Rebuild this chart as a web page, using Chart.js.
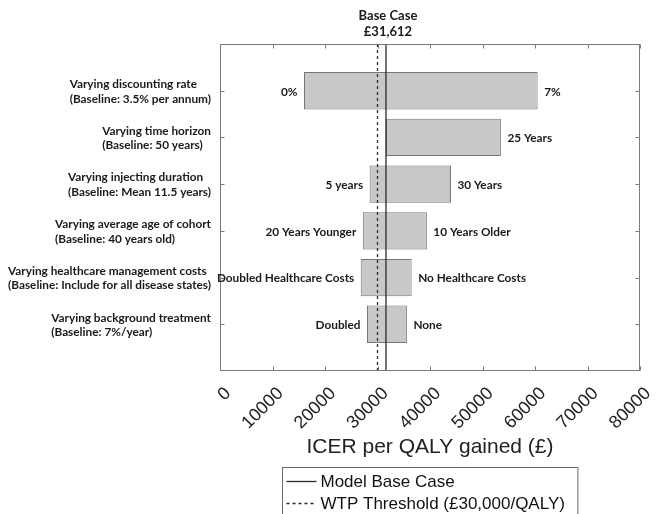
<!DOCTYPE html>
<html>
<head>
<meta charset="utf-8">
<script src="https://cdn.jsdelivr.net/npm/chart.js@4"></script>
<style>
  html, body { margin: 0; padding: 0; background: #fff; }
  canvas { display: block; }
</style>
</head>
<body>
<canvas id="tornado" width="667" height="514"></canvas>
<script>
// One-way sensitivity analysis: ICER per QALY gained for each varied parameter
const factorNames = [
  'Varying discounting rate',
  'Varying time horizon',
  'Varying injecting duration',
  'Varying average age of cohort',
  'Varying healthcare management costs',
  'Varying background treatment'
];
const baselineNotes = [
  '(Baseline: 3.5% per annum)',
  '(Baseline: 50 years)',
  '(Baseline: Mean 11.5 years)',
  '(Baseline: 40 years old)',
  '(Baseline: Include for all disease states)',
  '(Baseline: 7%/year)'
];
const lowIcer  = [16000, 31612, 28500, 27200, 26800, 28000];
const highIcer = [60500, 53500, 44000, 39400, 36500, 35600];
const lowLabels  = ['0%', '', '5 years', '20 Years Younger', 'Doubled Healthcare Costs', 'Doubled'];
const highLabels = ['7%', '25 Years', '30 Years', '10 Years Older', 'No Healthcare Costs', 'None'];
const baseCaseIcer = 31612;
const wtpThreshold = 30000;
const xTickValues = [0, 10000, 20000, 30000, 40000, 50000, 60000, 70000, 80000];
const legendLabels = ['Model Base Case', 'WTP Threshold (£30,000/QALY)'];

// empty rows above and below the factors give the half-row margins of the frame
const rowLabels = ['top', ...factorNames, 'bottom'];

const BOLD = 'bold 11.8px Lato, "Liberation Sans", sans-serif';
const PLAIN = '"Liberation Sans", Arial, sans-serif';
const INK = '#1a1a1a';
const FRAME = '#7a7a7a';

const tornadoDecor = {
  id: 'tornadoDecor',
  afterDatasetsDraw(chart) {
    const { ctx, chartArea: a, scales: { x, y } } = chart;
    ctx.save();

    // frame with inward tick marks on all four sides
    ctx.strokeStyle = FRAME;
    ctx.lineWidth = 1;
    const L = Math.round(a.left) + 0.5, R = Math.round(a.right) - 0.5;
    const T = Math.round(a.top) + 0.5, B = Math.round(a.bottom) - 0.5;
    ctx.strokeRect(L, T, R - L, B - T);
    ctx.beginPath();
    xTickValues.forEach(v => {
      const px = Math.round(x.getPixelForValue(v)) + 0.5;
      ctx.moveTo(px, T); ctx.lineTo(px, T + 4);
      ctx.moveTo(px, B); ctx.lineTo(px, B - 4);
    });
    factorNames.forEach(name => {
      const py = Math.round(y.getPixelForValue(rowLabels.indexOf(name))) + 0.5;
      ctx.moveTo(L, py); ctx.lineTo(L + 4, py);
      ctx.moveTo(R, py); ctx.lineTo(R - 4, py);
    });
    ctx.stroke();

    // factor names: two-line blocks, left-aligned inside, right edge near the frame
    ctx.font = BOLD;
    ctx.fillStyle = INK;
    ctx.textBaseline = 'middle';
    ctx.textAlign = 'left';
    factorNames.forEach((name, i) => {
      const py = y.getPixelForValue(rowLabels.indexOf(name));
      const w = Math.max(ctx.measureText(name).width, ctx.measureText(baselineNotes[i]).width);
      const x0 = a.left - 9 - w;
      ctx.fillText(name, x0, py - 6.5);
      ctx.fillText(baselineNotes[i], x0, py + 8);
    });

    // scenario labels at both ends of each bar
    const meta = chart.getDatasetMeta(2);
    meta.data.forEach((bar, i) => {
      const { x: xv, base, y: yc } = bar.getProps(['x', 'base', 'y'], true);
      const left = Math.min(xv, base), right = Math.max(xv, base);
      ctx.textAlign = 'right';
      ctx.fillText(lowLabels[i], left - 6.5, yc + 1);
      ctx.textAlign = 'left';
      ctx.fillText(highLabels[i], right + 6.5, yc + 1);
    });

    // base case annotation above the frame
    const bx = x.getPixelForValue(baseCaseIcer) + 2;
    ctx.textAlign = 'center';
    ctx.font = 'bold 13px Lato, "Liberation Sans", sans-serif';
    ctx.fillText('Base Case', bx, 16);
    ctx.fillText('£' + baseCaseIcer.toLocaleString('en-GB'), bx, 32);

    // boxed legend below the axis title, one entry per reference line
    ctx.font = '17px ' + PLAIN;
    const textW = Math.max(...legendLabels.map(t => ctx.measureText(t).width));
    const boxW = 4 + 30 + 4 + textW + 13;
    const cx = (a.left + a.right) / 2;
    const bl = Math.round(cx - boxW / 2) + 0.5;
    const bt = Math.round(x.bottom + 7) + 0.5;
    ctx.strokeStyle = '#6a6a6a';
    ctx.lineWidth = 1;
    ctx.strokeRect(bl, bt, boxW, 80);
    [0, 1].forEach(k => {
      const ds = chart.data.datasets[k];
      const ly = bt + 14 + k * 22;
      ctx.strokeStyle = ds.borderColor;
      ctx.lineWidth = ds.borderWidth;
      ctx.setLineDash(ds.borderDash || []);
      ctx.beginPath();
      ctx.moveTo(bl + 4, ly); ctx.lineTo(bl + 34, ly);
      ctx.stroke();
      ctx.setLineDash([]);
      ctx.fillStyle = '#111';
      ctx.textAlign = 'left';
      ctx.fillText(ds.label, bl + 38, ly + 1);
    });

    ctx.restore();
  }
};

new Chart(document.getElementById('tornado'), {
  type: 'bar',
  data: {
    labels: rowLabels,
    datasets: [
      {
        type: 'line',
        label: legendLabels[0],
        indexAxis: 'y',
        data: [{ x: baseCaseIcer, y: rowLabels[0] }, { x: baseCaseIcer, y: rowLabels[rowLabels.length - 1] }],
        borderColor: '#2a2a2a',
        borderWidth: 1.3,
        pointRadius: 0,
        order: 0
      },
      {
        type: 'line',
        label: legendLabels[1],
        indexAxis: 'y',
        data: [{ x: wtpThreshold, y: rowLabels[0] }, { x: wtpThreshold, y: rowLabels[rowLabels.length - 1] }],
        borderColor: '#2a2a2a',
        borderWidth: 1.3,
        borderDash: [3, 3],
        pointRadius: 0,
        order: 0
      },
      {
        type: 'bar',
        label: 'ICER range',
        data: factorNames.map((name, i) => ({ y: name, x: [lowIcer[i], highIcer[i]] })),
        backgroundColor: '#c8c8c8',
        borderColor: '#767676',
        borderWidth: 1,
        borderSkipped: false,
        categoryPercentage: 0.8,
        barPercentage: 1.0,
        order: 1
      }
    ]
  },
  options: {
    indexAxis: 'y',
    responsive: false,
    animation: false,
    events: [],
    layout: { padding: { top: 44, right: 27, bottom: 54, left: 0 } },
    plugins: { legend: { display: false }, tooltip: { enabled: false } },
    scales: {
      x: {
        type: 'linear',
        position: 'bottom',
        min: 0,
        max: 80000,
        afterBuildTicks: s => { s.ticks = xTickValues.map(v => ({ value: v })); },
        afterFit: s => { s.height = 89; },
        grid: { display: false },
        border: { display: false },
        ticks: {
          autoSkip: false,
          minRotation: 45,
          maxRotation: 45,
          padding: 4,
          labelOffset: 8,
          color: '#222',
          font: { family: PLAIN, size: 18 },
          callback: v => String(v)
        },
        title: {
          display: true,
          text: 'ICER per QALY gained (£)',
          color: '#222',
          font: { family: PLAIN, size: 21 },
          padding: { top: 0, bottom: 0 }
        }
      },
      y: {
        type: 'category',
        labels: rowLabels,
        offset: false,
        afterFit: s => { s.width = 220; },
        grid: { display: false },
        border: { display: false },
        ticks: { display: false }
      }
    }
  },
  plugins: [tornadoDecor]
});
</script>
</body>
</html>
